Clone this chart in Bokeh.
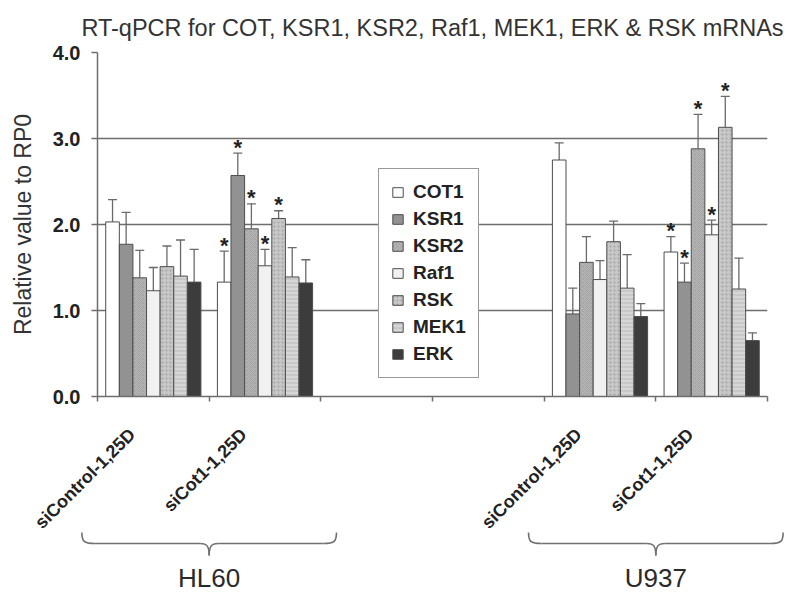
import math
from bokeh.plotting import figure
from bokeh.models import (ColumnDataSource, Range1d, FixedTicker, NumeralTickFormatter,
                          Legend, LegendItem, Whisker, TeeHead)
from bokeh.layouts import column
from bokeh.embed import file_html
from bokeh.resources import INLINE
from bokeh.core.properties import value

# ---------------- data ----------------
title_text = "RT-qPCR for COT, KSR1, KSR2, Raf1, MEK1, ERK & RSK mRNAs"
y_label = "Relative value to RP0"
genes = ["COT1", "KSR1", "KSR2", "Raf1", "RSK", "MEK1", "ERK"]
conditions = ["siControl-1,25D", "siCot1-1,25D", "siControl-1,25D", "siCot1-1,25D"]
condition_slots = [0, 1, 4, 5]          # slot index on the category axis (slots 2,3 empty)
n_slots = 6
cell_lines = ["HL60", "U937"]
cell_line_slots = [1, 5]                # boundary between the two conditions of each cell line
y_ticks = [0, 1, 2, 3, 4]

cot1_mean = [2.03, 1.33, 2.75, 1.68]
cot1_sd = [0.26, 0.36, 0.20, 0.18]
ksr1_mean = [1.77, 2.57, 0.96, 1.33]
ksr1_sd = [0.37, 0.26, 0.30, 0.22]
ksr2_mean = [1.38, 1.95, 1.56, 2.88]
ksr2_sd = [0.32, 0.29, 0.30, 0.40]
raf1_mean = [1.23, 1.52, 1.36, 1.88]
raf1_sd = [0.27, 0.19, 0.22, 0.17]
rsk_mean = [1.51, 2.07, 1.80, 3.13]
rsk_sd = [0.24, 0.09, 0.24, 0.36]
mek1_mean = [1.40, 1.39, 1.26, 1.25]
mek1_sd = [0.42, 0.34, 0.39, 0.36]
erk_mean = [1.33, 1.32, 0.93, 0.65]
erk_sd = [0.38, 0.27, 0.15, 0.09]

significant = {
    "COT1": [0, 1, 0, 1],
    "KSR1": [0, 1, 0, 1],
    "KSR2": [0, 1, 0, 1],
    "Raf1": [0, 1, 0, 1],
    "RSK": [0, 1, 0, 1],
    "MEK1": [0, 0, 0, 0],
    "ERK": [0, 0, 0, 0],
}
means = {"COT1": cot1_mean, "KSR1": ksr1_mean, "KSR2": ksr2_mean, "Raf1": raf1_mean,
         "RSK": rsk_mean, "MEK1": mek1_mean, "ERK": erk_mean}
sds = {"COT1": cot1_sd, "KSR1": ksr1_sd, "KSR2": ksr2_sd, "Raf1": raf1_sd,
       "RSK": rsk_sd, "MEK1": mek1_sd, "ERK": erk_sd}

# ---------------- styles ----------------
styles = {
    "COT1": ("#ffffff", None),
    "KSR1": ("#929292", None),
    "KSR2": ("#b3b3b3", "diagonal_cross"),
    "Raf1": ("#f1f1f1", None),
    "RSK": ("#c7c7c7", "dot"),
    "MEK1": ("#d6d6d6", "horizontal_line"),
    "ERK": ("#3c3c3c", None),
}
FONT = "Liberation Sans"
AX = "#6e6e6e"
TXT = "#222222"

W = 787
LEFT, RIGHT, TOP = 97, 20, 52
FRAME_H = 344
BOTTOM = 150
H_TOP = TOP + FRAME_H + BOTTOM
OVERLAP = 16
H_BOT = 66
FRAME_W = W - LEFT - RIGHT
bar_w = 0.1218
label_shift = -0.19      # rotated category labels sit a little left of the slot centre

p = figure(width=W, height=H_TOP, x_range=Range1d(0, n_slots), y_range=Range1d(0, 4),
           toolbar_location=None, output_backend="svg",
           min_border_left=LEFT, min_border_right=RIGHT, min_border_top=TOP,
           min_border_bottom=BOTTOM)
p.frame_align = False
p.outline_line_color = None
p.background_fill_color = "white"

p.title.text = title_text
p.title.text_font = FONT
p.title.text_font_size = "23.5px"
p.title.text_font_style = "normal"
p.title.text_color = "#333333"
p.title.align = "center"
p.title.vertical_align = "bottom"
p.title.standoff = 24

# y axis
p.yaxis.ticker = FixedTicker(ticks=y_ticks)
p.yaxis.formatter = NumeralTickFormatter(format="0.0")
p.yaxis.axis_label = y_label
p.yaxis.axis_label_text_font = FONT
p.yaxis.axis_label_text_font_size = "23px"
p.yaxis.axis_label_text_font_style = "normal"
p.yaxis.axis_label_text_color = "#333333"
p.yaxis.axis_label_standoff = 14
p.yaxis.major_label_text_font = FONT
p.yaxis.major_label_text_font_size = "20px"
p.yaxis.major_label_text_font_style = "bold"
p.yaxis.major_label_text_color = TXT
p.yaxis.major_label_standoff = 11
p.yaxis.axis_line_color = AX
p.yaxis.axis_line_width = 1.5
p.yaxis.major_tick_line_color = AX
p.yaxis.major_tick_line_width = 1.5
p.yaxis.major_tick_out = 6
p.yaxis.major_tick_in = 0
p.yaxis.minor_tick_line_color = None

# x axis
label_ticks = [s + 0.5 + label_shift for s in condition_slots]
p.xaxis.ticker = FixedTicker(ticks=label_ticks, minor_ticks=list(range(n_slots + 1)))
p.xaxis.major_label_overrides = {t: c for t, c in zip(label_ticks, conditions)}
p.xaxis.major_label_orientation = math.pi / 4
p.xaxis.major_label_text_font = FONT
p.xaxis.major_label_text_font_size = "18px"
p.xaxis.major_label_text_font_style = "bold"
p.xaxis.major_label_text_color = TXT
p.xaxis.major_label_standoff = 30
p.xaxis.major_tick_out = 0
p.xaxis.major_tick_in = 0
p.xaxis.minor_tick_out = 5
p.xaxis.minor_tick_in = 0
p.xaxis.minor_tick_line_color = AX
p.xaxis.minor_tick_line_width = 1.5
p.xaxis.axis_line_color = AX
p.xaxis.axis_line_width = 1.5

p.xgrid.visible = False
p.ygrid.ticker = FixedTicker(ticks=y_ticks)
p.ygrid.grid_line_color = AX
p.ygrid.grid_line_width = 1.5

legend_items = []
for j, g in enumerate(genes):
    xs = [s + 0.5 + (j - 3) * bar_w for s in condition_slots]
    m = means[g]
    up = [a + b for a, b in zip(m, sds[g])]
    src = ColumnDataSource(dict(x=xs, mean=m, upper=up, cond=conditions))
    fill, hatch = styles[g]
    kw = {}
    if hatch:
        kw = dict(hatch_pattern=hatch, hatch_scale=4, hatch_color="#8c8c8c",
                  hatch_weight=0.6, hatch_alpha=0.6)
    r = p.vbar(x="x", top="mean", bottom=0, width=bar_w, source=src,
               fill_color=fill, line_color="#4d4d4d", line_width=1, **kw)
    legend_items.append(LegendItem(label=g, renderers=[r]))
    wk = Whisker(source=src, base="x", lower="mean", upper="upper", dimension="height",
                 line_color="#6a6a6a", line_width=1.3,
                 upper_head=TeeHead(size=9, line_color="#6a6a6a", line_width=1.3),
                 lower_head=None)
    p.add_layout(wk)
    sx = [x for x, f in zip(xs, significant[g]) if f]
    sy = [u for u, f in zip(up, significant[g]) if f]
    if sx:
        ssrc = ColumnDataSource(dict(x=sx, y=sy, t=["*"] * len(sx)))
        p.text(x="x", y="y", text="t", source=ssrc, text_align="center",
               text_baseline="middle", y_offset=-6, text_font=value(FONT),
               text_font_size="22px", text_font_style="bold", text_color=TXT)

legend = Legend(items=legend_items, location=(281, 18))
legend.label_text_font = FONT
legend.label_text_font_size = "19px"
legend.label_text_font_style = "bold"
legend.label_text_color = TXT
legend.glyph_width = 13
legend.glyph_height = 12
legend.label_height = 20
legend.label_standoff = 9
legend.spacing = 5
legend.padding = 12
legend.margin = 0
legend.border_line_color = "#333333"
legend.border_line_width = 1.3
legend.background_fill_color = "white"
legend.background_fill_alpha = 1
p.add_layout(legend)

# ---------------- braces + cell line names ----------------
ppu = FRAME_W / n_slots
x_lo = -LEFT / ppu
x_hi = n_slots + RIGHT / ppu
p2 = figure(width=W, height=H_BOT, x_range=Range1d(x_lo, x_hi), y_range=Range1d(H_BOT, 0),
            toolbar_location=None, output_backend="svg",
            x_axis_location=None, y_axis_location=None,
            min_border_left=0, min_border_right=0, min_border_top=0, min_border_bottom=0)
p2.frame_align = False
p2.margin = (-OVERLAP, 0, 0, 0)
p2.outline_line_color = None
p2.grid.visible = False
p2.background_fill_alpha = 0
p2.border_fill_alpha = 0

half_w = 1.14
r_end = 13 / ppu
r_mid = 9 / ppu
y_top, y_mid, y_tip = 2, 13, 25
bx0, by0, bx1, by1, bc0x, bc0y, bc1x, bc1y = [], [], [], [], [], [], [], []
lx0, lx1 = [], []
for c in cell_line_slots:
    L, R = c - half_w, c + half_w
    # left hook
    bx0.append(L); by0.append(y_top); bx1.append(L + r_end); by1.append(y_mid)
    bc0x.append(L); bc0y.append(y_mid - 2); bc1x.append(L + 2 / ppu); bc1y.append(y_mid)
    # right hook
    bx0.append(R); by0.append(y_top); bx1.append(R - r_end); by1.append(y_mid)
    bc0x.append(R); bc0y.append(y_mid - 2); bc1x.append(R - 2 / ppu); bc1y.append(y_mid)
    # centre tip, left
    bx0.append(c - r_mid); by0.append(y_mid); bx1.append(c); by1.append(y_tip)
    bc0x.append(c - 2 / ppu); bc0y.append(y_mid); bc1x.append(c); bc1y.append(y_mid + 3)
    # centre tip, right
    bx0.append(c + r_mid); by0.append(y_mid); bx1.append(c); by1.append(y_tip)
    bc0x.append(c + 2 / ppu); bc0y.append(y_mid); bc1x.append(c); bc1y.append(y_mid + 3)
    lx0 += [L + r_end, c + r_mid]
    lx1 += [c - r_mid, R - r_end]

p2.bezier(x0=bx0, y0=by0, x1=bx1, y1=by1, cx0=bc0x, cy0=bc0y, cx1=bc1x, cy1=bc1y,
          line_color="#707070", line_width=1.6)
p2.segment(x0=lx0, y0=[y_mid] * len(lx0), x1=lx1, y1=[y_mid] * len(lx1),
           line_color="#707070", line_width=1.6)
p2.text(x=cell_line_slots, y=[47] * len(cell_line_slots), text=cell_lines,
        text_align="center", text_baseline="middle", text_font=value(FONT),
        text_font_size="26px", text_color="#2a2a2a")

layout = column(p, p2, spacing=0)
open("out.html", "w").write(file_html(layout, INLINE))
